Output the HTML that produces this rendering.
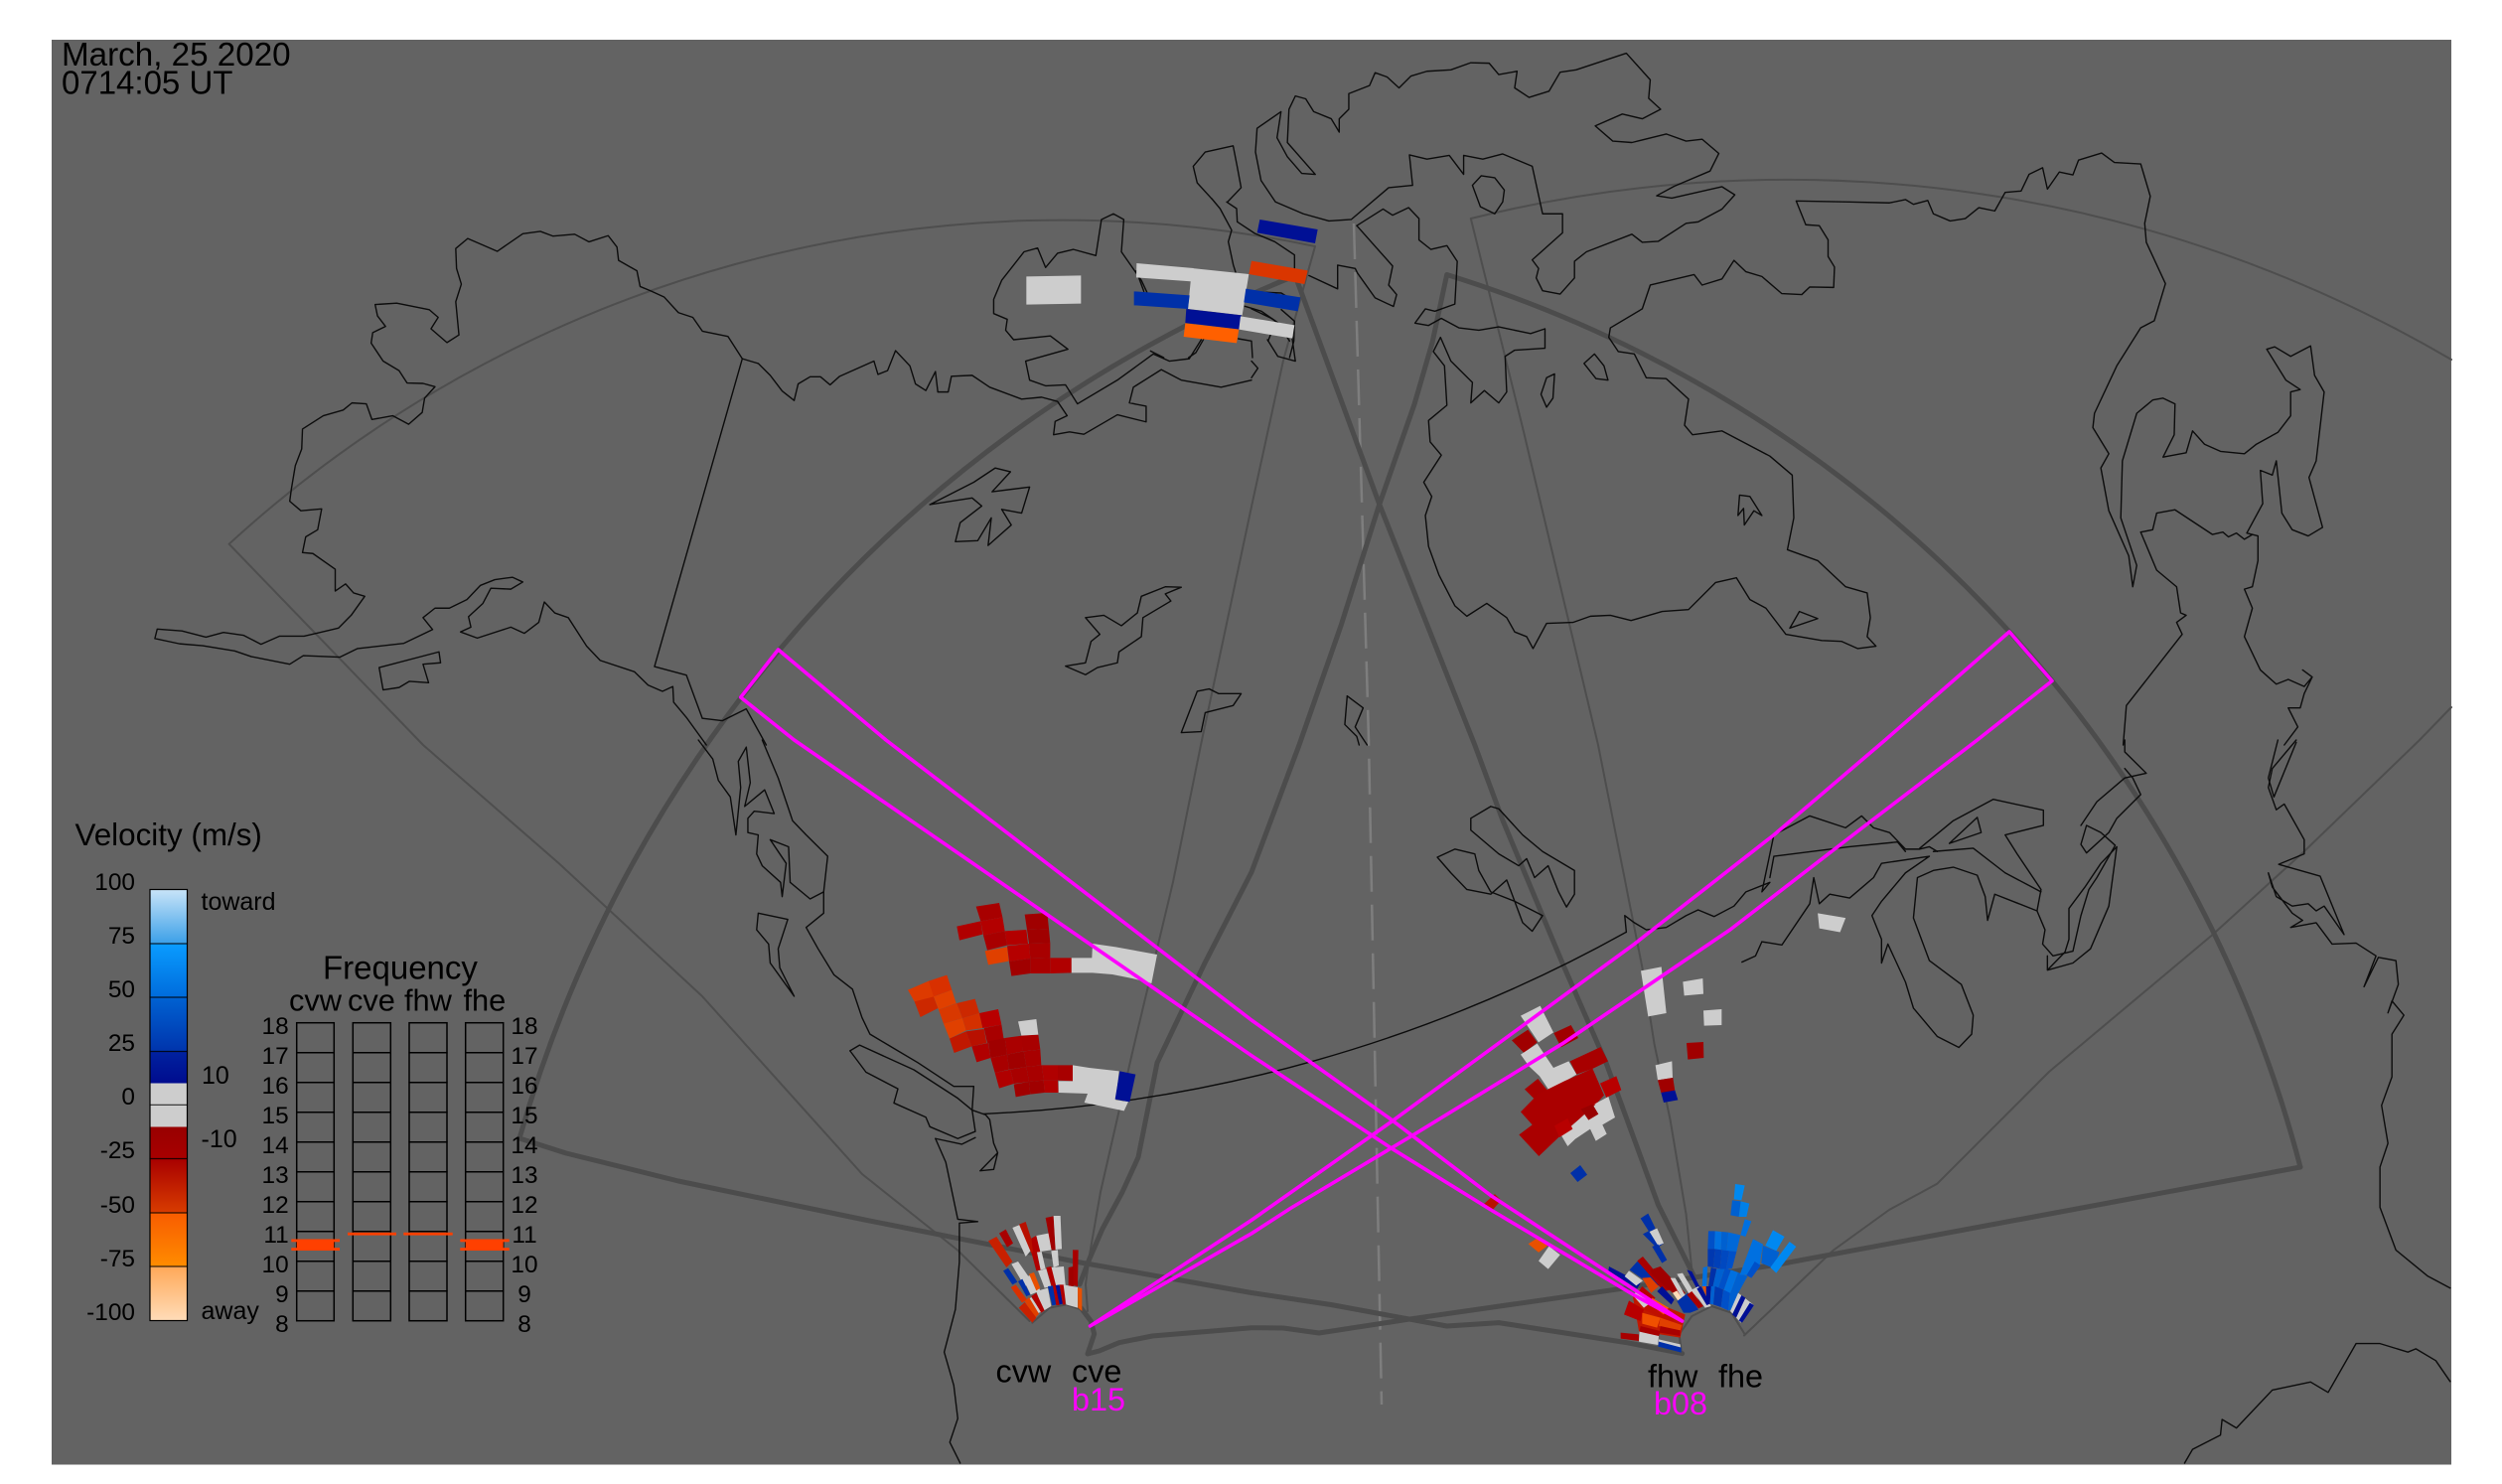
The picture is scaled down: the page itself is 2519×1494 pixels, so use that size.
<!DOCTYPE html>
<html><head><meta charset="utf-8"><style>
html,body{margin:0;padding:0;background:#fff}
svg{display:block}
polyline{vector-effect:non-scaling-stroke;fill:none;stroke-linejoin:round;stroke-linecap:round}
path{fill:none;stroke-linejoin:round;stroke-linecap:round}
.co polyline,.co path{stroke:#0c0c0c;stroke-width:1.4}
.tn polyline,.tn path{stroke:#4e4e4e;stroke-width:2}
.tk path{stroke:#4c4c4c;stroke-width:5}
.mg polyline{stroke:#ff00ff;stroke-width:3.6}
text{font-family:"Liberation Sans",sans-serif;fill:#000}
.g{fill:#cdcdcd}.n{fill:#001095}.b{fill:#0030a8}.r{fill:#a80000}.d{fill:#a00000}.s{fill:#b80000}.o{fill:#e04000}.p{fill:#ff6000}
</style></head><body>
<svg xmlns="http://www.w3.org/2000/svg" width="2519" height="1494" viewBox="0 0 2519 1494">
<defs>
<linearGradient id="g1" x1="0" y1="0" x2="0" y2="1"><stop offset="0" stop-color="#c8e4f8"/><stop offset="1" stop-color="#3ca0e8"/></linearGradient>
<linearGradient id="g2" x1="0" y1="0" x2="0" y2="1"><stop offset="0" stop-color="#0a9cff"/><stop offset="1" stop-color="#006cdc"/></linearGradient>
<linearGradient id="g3" x1="0" y1="0" x2="0" y2="1"><stop offset="0" stop-color="#0062d2"/><stop offset="1" stop-color="#0034ac"/></linearGradient>
<linearGradient id="g4" x1="0" y1="0" x2="0" y2="1"><stop offset="0" stop-color="#0022a0"/><stop offset="1" stop-color="#000c8e"/></linearGradient>
<linearGradient id="g5" x1="0" y1="0" x2="0" y2="1"><stop offset="0" stop-color="#980000"/><stop offset="1" stop-color="#a80000"/></linearGradient>
<linearGradient id="g6" x1="0" y1="0" x2="0" y2="1"><stop offset="0" stop-color="#a80000"/><stop offset="1" stop-color="#d83c00"/></linearGradient>
<linearGradient id="g7" x1="0" y1="0" x2="0" y2="1"><stop offset="0" stop-color="#f85c00"/><stop offset="1" stop-color="#ff8c00"/></linearGradient>
<linearGradient id="g8" x1="0" y1="0" x2="0" y2="1"><stop offset="0" stop-color="#ffa858"/><stop offset="1" stop-color="#ffdcb8"/></linearGradient>
</defs>
<rect width="2519" height="1494" fill="#fff"/>
<rect x="52" y="40" width="2416" height="1434.5" fill="#636363"/>

<!-- thin fans -->
<g class="tn">
<path d="M1036.6,1330 L964,1258.5 L868,1182 L707,1003 L562.5,869 L426,750 L230.6,547.7 A1241.7,1241.7 0 0 1 1324,248 L1292,363 L1260,510 L1209,750 L1181,888 L1141,1055.5 L1108,1200 L1097,1263 L1093,1293 L1095,1320"/>
<path d="M1704,1285 L1697.6,1222.7 L1681.5,1127 L1665.5,1050.7 L1653.4,974 L1609,750 L1533,430.5 L1480.8,220 A1322,1322 0 0 1 2468,362"/>
<path d="M2468,712 L2436,745 L2320,857 L2227.6,941 L2063,1079 L1950.5,1191.6 L1902,1218 L1846,1258.5 L1756,1344.5"/>
<g transform="translate(960,1200) scale(.33333)"><polyline points="238,395 290,350 340,340 385,355 415,390"/></g>
<g transform="translate(1540,1180) scale(.33333)"><polyline points="458,540 452,490 490,435 550,405 610,425 650,490"/></g>
</g>

<!-- dashed centre -->
<polyline points="1363,225 1378,745 1391,1414" style="stroke:#7e7e7e;stroke-width:2.5;stroke-dasharray:36 13;stroke-linecap:butt"/>

<!-- thick fans -->
<g class="tk">
<path d="M1693.6,1362.6 L1637.4,1351.6 L1509,1331.6 L1456.7,1335 L1340,1313.5 L1260,1301.5 L1085,1270.5 L964,1246.6 L868,1227.5 L683,1189 L570,1161 L523,1146 A1331,1331 0 0 1 1304,277.5 L1388.5,507 L1484.8,750 L1513,826 L1573,969.5 L1617,1070 L1645,1146 L1669.5,1213 L1705.6,1285"/>
<path d="M1088.3,1316.7 L1098.3,1330 L1101.7,1343 L1095,1363 L1106.7,1360 L1126.7,1351.7 L1160,1345 L1260,1336.7 L1292,1337 L1328,1342 L1420.6,1327.8 L1637.4,1296.7 L1790,1273 L2316,1175 A1279.5,1279.5 0 0 0 1456.7,276.5 L1442,345 L1424,407 L1388,510 L1350,630 L1308,750 L1260,878 L1213,969.5 L1165,1070 L1146,1165 L1130,1200 L1110,1237 L1097,1267 L1087,1293"/>
</g>

<!-- coast -->
<g class="co">
<path d="M990,1121.4 A1461,1461 0 0 0 1637,938.5"/>
<g transform="translate(0,0) scale(.80357,.47832)">
<polyline points="930,755 912,708 880,697 868,668 850,658 832,625 815,612 802,603 798,570 775,548 773,520 762,496 738,509 720,493 693,497 677,487 655,492 623,529 586,502 571,523 572,565 578,598 571,635 575,705 560,721 540,692 549,668 538,652 497,638 470,641 473,665 483,687 467,700 465,722 480,760 500,780 510,806 530,807 545,814 532,838 529,868 512,893 492,875 466,883 459,850 441,848 430,863 405,875 379,903 378,945 370,980 365,1030 363,1055 377,1075 403,1071 398,1115 383,1130 379,1163 392,1165 420,1198 420,1244 433,1229 443,1248 457,1255 440,1295 424,1322 381,1339 350,1339 327,1356 305,1337 280,1331 258,1341 228,1328 197,1324 194,1344 225,1355 254,1359 294,1370 315,1382 363,1398 380,1380 426,1383 448,1365 506,1354 542,1325 530,1300 545,1280 563,1280 585,1262 602,1232 620,1220 642,1215 655,1225 640,1240 615,1238 605,1270 587,1298 590,1320 577,1330 598,1343 640,1320 657,1333 675,1310 682,1267 695,1290 712,1300 735,1360 752,1390 795,1414 812,1442 830,1455 843,1445 844,1478 860,1510 885,1568"/>
<polyline points="930,755 820,1403 860,1421 880,1512 905,1517 935,1492 960,1568"/>
<polyline points="475,1405 550,1372 552,1395 530,1398 537,1437 513,1434 500,1447 480,1452 475,1405"/>
<polyline points="930,755 950,765 965,790 980,823 995,843 1000,808 1015,793 1028,793 1040,810 1052,792 1095,760 1100,788 1112,780 1122,738 1140,770 1147,808 1160,822 1172,782 1175,825 1188,825 1192,792 1218,790 1240,815 1280,840 1305,836 1325,845 1337,875 1322,887 1320,915 1340,909 1358,914 1400,873 1436,888 1436,855 1415,848 1420,815 1455,778 1480,800 1530,815 1568,800"/>
<polyline points="1505,715 1490,755 1465,760 1445,745 1400,800 1350,850 1335,810 1310,812 1290,800 1285,760 1338,735 1316,707 1270,715 1260,695 1262,672 1245,660 1245,630 1255,590 1283,530 1300,522 1310,563 1325,533 1345,525 1373,538 1380,462 1395,450 1408,462 1405,530 1430,590 1437,615"/>
<polyline points="1518,418 1500,385 1495,350 1510,320 1545,307 1550,350 1555,395 1538,425"/>
<polyline points="1165,1062 1220,1015 1247,985 1266,993 1243,1035 1290,1025 1280,1080 1255,1072 1267,1105 1238,1148 1242,1090 1225,1138 1197,1140 1203,1100 1230,1065 1218,1048 1165,1062"/>
<polyline points="1360,1300 1383,1295 1405,1317 1425,1290 1430,1255 1460,1235 1480,1236 1460,1250 1467,1265 1432,1300 1430,1340 1402,1372 1400,1395 1375,1405 1360,1420 1335,1402 1360,1395 1367,1350 1378,1335 1360,1300"/>
<polyline points="1500,1455 1515,1450 1527,1460 1555,1460 1545,1485 1510,1500 1505,1540 1480,1542 1500,1455"/>
</g>
<g transform="translate(1020,200) scale(.33333)">
<polyline points="600,0 625,30 660,95 650,130 665,200 672,222"/>
<polyline points="645,10 675,30 677,70 730,105 790,130 850,170 850,210"/>
<polyline points="700,325 750,340 800,375 835,430"/>
<polyline points="770,430 778,410 790,385"/>
<polyline points="680,423 720,430 723,480"/>
<polyline points="575,425 552,465 530,480"/>
<polyline points="415,460 455,480"/>
<polyline points="810,335 850,370 848,430 835,480"/>
<polyline points="700,280 810,285 850,310"/>
<polyline points="372,218 395,280"/>
</g>
<g transform="translate(1260,0) scale(.80293,.47832)">
<polyline points="7,270 37,235 32,290 45,330 63,365 80,367 45,300 47,230 55,202 68,208 78,235 100,250 110,278 110,250 122,230 122,197 148,180 155,153 170,162 185,185 200,160 220,150 250,147 275,132 298,133 310,157 333,150 330,185 348,205 373,192 387,152 407,147 470,112 500,168 498,207 513,230 490,250 465,240 431,265 453,297 477,300 520,282 545,297 565,293 586,323 575,360 530,392 508,412 527,417 590,393 606,410 590,440 560,467 545,470 510,508 490,510 477,493 420,530 405,550 405,585 387,619 365,612 357,585 360,565 352,547 390,490 390,450 365,450 352,350 315,324 290,335 266,327 266,367 248,327 220,335 198,326 202,390 172,395 125,462 97,465 65,450 30,425 12,380 5,320 7,270"/>
<polyline points="277,390 288,370 305,374 317,400 315,425 305,450 287,435 277,390"/>
<polyline points="132,475 165,440 177,453 197,437 210,460 210,505 225,525 245,517 258,550 255,640 230,655 218,650 205,680 222,685 238,670 260,690 285,695 310,688 350,702 368,692 368,733 330,737 318,750 320,825 310,848 292,822 275,848 277,805 250,760 237,710 228,740 242,770 245,853 222,885 224,930 238,958 216,1015 226,1045 218,1085 222,1150 235,1210 255,1275 270,1297 295,1270 320,1300 330,1330 345,1340 353,1365 370,1312 403,1310 425,1297 450,1295 476,1306 515,1287 548,1283 582,1226 608,1216 625,1262 645,1280 670,1335 715,1348 740,1350 760,1365 783,1360 772,1340 776,1300 772,1248 745,1235 710,1180 672,1157 680,1090 678,1000 650,960 590,907 553,915 543,895 548,840 520,797 495,795 480,745 460,740 448,710 450,690 490,650 500,600 555,578 565,600 590,587 605,548 620,572 640,582 665,618 690,620 700,604 730,605 731,562 723,540 723,505 712,475 695,473 683,423 750,425 800,427 820,420 830,430 848,422 855,450 876,465 895,460 912,437 932,444 945,405 965,402 975,367 992,353 998,398 1013,362 1030,368 1037,337 1066,322 1082,342 1115,345 1127,413 1120,470 1122,510 1146,597 1132,675 1115,690 1085,770 1057,870 1055,900 1075,955 1065,985 1075,1075 1100,1170 1105,1235 1110,1190 1090,1090 1092,970 1110,870 1130,842 1143,838 1158,850 1157,915 1143,962 1172,953 1180,907 1195,935 1215,950 1245,955 1260,935 1287,910 1303,875 1303,825 1315,820 1297,800 1273,735 1283,730 1303,750 1328,728 1333,790 1345,825 1335,970 1326,1005 1343,1110 1325,1128 1305,1115 1292,1080 1285,970 1280,1000 1265,990 1268,1060 1248,1122 1262,1128 1262,1180 1255,1235 1245,1240 1255,1280 1245,1340 1265,1410 1285,1440 1300,1430 1320,1445 1330,1425 1318,1410"/>
<polyline points="1330,1425 1320,1460 1315,1490 1300,1490 1312,1530 1295,1568"/>
<polyline points="132,475 177,560 172,600 182,620 178,645 155,627 133,575 130,565 108,558 108,608 72,580"/>
<polyline points="0,650 25,670 50,700 55,760 33,750 20,715"/>
<polyline points="0,760 8,775 0,795"/>
<polyline points="1115,1120 1130,1115 1135,1080 1158,1073 1205,1125 1218,1120 1225,1130 1235,1122 1245,1135 1255,1125"/>
<polyline points="1115,1120 1135,1200 1160,1235 1165,1290 1172,1295 1160,1310 1167,1335 1097,1485 1093,1568"/>
<polyline points="417,765 430,745 442,770 447,800 432,797 417,765"/>
<polyline points="380,787 370,795 363,830 370,857 378,838 380,787"/>
<polyline points="612,1042 625,1045 640,1085 630,1075 618,1105 617,1070 610,1085 612,1042"/>
<polyline points="675,1322 687,1287 710,1302 675,1322"/>
<polyline points="120,1465 140,1490 130,1530 145,1568"/>
<polyline points="120,1465 117,1525 132,1550 135,1568"/>
</g>
<g transform="translate(0,745) scale(.80357,.47768)">
<polyline points="875,0 893,40 900,85 915,120 922,200 928,100 925,45 935,15 940,90 933,140 958,105 970,155 945,150 937,165 937,195 950,200 948,240 955,265 978,300 980,330 985,260 965,210 988,225 990,300 1015,335 1032,320 1032,365 1010,395 1025,440 1045,495 1068,525 1080,585 1090,620 1120,650 1150,680 1195,730 1220,730 1218,780 1235,790 1240,800 1245,850 1250,870 1228,908 1245,905 1250,870"/>
<polyline points="955,0 965,40 975,80 985,130 993,170 1010,200 1037,245 1032,320"/>
<polyline points="950,365 987,378 975,440 977,480 995,540 965,470 963,430 948,400 950,365"/>
<polyline points="1065,655 1077,643 1145,695 1200,755 1218,780"/>
<polyline points="1065,655 1085,700 1125,735 1120,765 1160,795 1165,815 1200,840 1222,825 1218,780"/>
<polyline points="1172,840 1205,852 1222,838"/>
<polyline points="1172,840 1185,890 1200,1010 1225,1015 1202,1018 1202,1100 1197,1200 1183,1290 1195,1360 1200,1430 1190,1480 1203,1524"/>
</g>
<g transform="translate(1260,745) scale(.80293,.47768)">
<polyline points="470,405 468,370 480,385 495,400 520,395 545,370 560,358 580,372 605,350 620,320 650,300 640,320 655,200 700,160 745,185 765,160 780,185 800,195 820,230 838,230 850,225 860,235"/>
<polyline points="650,290 655,245 750,225 810,215 820,235"/>
<polyline points="615,468 632,455 640,425 665,432 700,345 705,290 712,345 725,325 750,333 780,290 790,260 850,245 820,280 790,340 778,370 790,420 790,470 798,430 820,510 830,565 860,625 887,648 903,620 905,580 890,515 850,465 830,375 835,290 855,275 880,268 910,285 920,330 923,380 932,325 985,360"/>
<polyline points="838,228 880,170 930,125 993,148 993,180 945,200 960,240 990,315 985,360 995,400 992,430 1005,455 1030,445 1040,370 1050,315 1060,290 1083,222 1065,195 1047,180 1040,220 1047,238 1075,195 1085,165 1115,115 1105,80 1095,60"/>
<polyline points="998,455 998,485 1030,470 1052,440 1075,350 1085,225 1065,260 1045,310 1025,355 1025,420 1020,447 998,485"/>
<polyline points="1040,180 1060,130 1095,80 1122,70 1095,25 1095,0"/>
<polyline points="875,218 910,163 915,195 875,218"/>
<polyline points="855,235 905,228 945,280 990,320"/>
<polyline points="1310,0 1280,60 1275,100 1285,147 1295,135 1320,210 1320,240 1288,262 1340,287 1370,410 1345,350 1335,360 1325,345 1305,350 1285,330 1275,280 1280,310 1305,365 1318,380 1303,395 1335,385 1355,430 1385,428 1410,455 1395,520 1413,458 1435,465 1438,515 1425,575 1430,550 1445,580 1430,620 1430,710 1417,770 1425,850 1415,900 1415,985 1435,1075 1475,1130 1503,1155"/>
<polyline points="1287,0 1275,80 1282,120 1310,5"/>
<polyline points="1170,1524 1180,1495 1215,1465 1217,1432 1235,1450 1280,1370 1328,1353 1350,1375 1385,1272 1415,1272 1450,1290 1460,1283 1485,1308 1503,1352"/>
<polyline points="275,165 300,140 310,145 340,200 365,235 405,275 405,325 395,352 385,320 372,265 355,290 345,250 335,265 310,240 275,190 275,165"/>
<polyline points="233,247 255,230 280,240 285,275 300,320 330,340 365,370 352,403 340,385 330,340 320,295 300,325 270,315 250,280 233,247"/>
</g>
</g>

<!-- top data -->
<g transform="translate(1020,200) scale(.33333)">
<polygon class="g" points="40,235 205,232 205,317 40,320"/>
<polygon class="g" points="373,195 545,210 540,250 372,238"/>
<polygon class="g" points="540,210 712,228 692,352 528,333"/>
<polygon class="b" points="365,280 533,292 528,333 365,322"/>
<polygon class="n" points="523,333 690,352 685,395 520,375"/>
<polygon class="p" points="520,376 682,395 675,436 515,417"/>
<polygon class="g" points="687,355 850,382 843,422 682,395"/>
<polygon class="b" points="703,272 868,298 860,340 697,313"/>
<polygon fill="#da3600" points="720,188 890,217 880,258 712,228"/>
<polygon class="n" points="745,63 920,93 912,135 737,103"/>
</g>

<!-- mid-left data -->
<g transform="translate(900,900) scale(.33333)">
<polygon class="g" points="600,150 670,160 795,183 778,270 720,255 660,243 600,238 536,238 536,193 598,193"/>
<polygon class="r" points="248,38 318,27 328,70 262,82"/>
<polygon fill="#b00000" points="190,98 262,82 268,122 198,140"/>
<polygon fill="#b30000" points="262,82 328,70 335,112 270,125"/>
<polygon class="r" points="270,125 335,112 342,155 282,170"/>
<polygon fill="#b30000" points="335,112 400,108 405,150 342,155"/>
<polygon class="d" points="395,62 463,57 468,105 402,108"/>
<polygon class="d" points="402,108 468,105 472,148 408,150"/>
<polygon class="o" points="275,172 342,160 347,203 285,214"/>
<polygon fill="#b50000" points="342,157 408,150 412,195 348,204"/>
<polygon class="r" points="408,150 472,148 472,193 412,195"/>
<polygon class="d" points="348,204 412,195 412,240 355,248"/>
<polygon class="r" points="412,195 472,193 472,240 412,240"/>
<polygon fill="#b00000" points="472,193 536,193 536,238 472,240"/>
<polygon fill="#dd3a00" points="42,290 105,263 125,310 62,325"/>
<polygon fill="#d83000" points="105,263 160,245 175,290 120,310"/>
<polygon fill="#cc2800" points="62,325 120,310 133,345 80,372"/>
<polygon class="o" points="120,310 175,290 188,330 135,350"/>
<polygon fill="#d83800" points="135,350 190,330 207,375 150,392"/>
<polygon fill="#cc2800" points="190,330 245,317 258,360 207,375"/>
<polygon class="o" points="150,392 207,375 218,412 168,437"/>
<polygon fill="#d43000" points="207,375 258,360 268,405 218,412"/>
<polygon class="s" points="258,360 315,348 325,395 268,405"/>
<polygon fill="#c01800" points="168,437 218,415 235,460 182,480"/>
<polygon fill="#b81000" points="218,415 272,408 280,450 235,460"/>
<polygon class="r" points="272,405 325,395 332,440 282,450"/>
<polygon fill="#b00000" points="235,460 285,450 292,495 250,508"/>
<polygon class="d" points="285,445 335,435 342,485 292,495"/>
<polygon fill="#aa0000" points="335,435 388,428 390,475 342,485"/>
<polygon class="r" points="385,427 436,425 442,470 390,475"/>
<polygon class="r" points="292,495 342,485 348,530 305,540"/>
<polygon class="d" points="342,485 392,475 400,522 348,530"/>
<polygon class="r" points="392,475 442,470 445,517 400,522"/>
<polygon fill="#b00000" points="305,540 352,530 362,573 318,587"/>
<polygon class="r" points="352,530 400,522 408,567 362,573"/>
<polygon class="r" points="400,522 447,517 452,563 408,567"/>
<polygon fill="#b00000" points="447,517 495,517 495,563 452,563"/>
<polygon class="r" points="495,517 540,517 540,565 495,563"/>
<polygon class="d" points="362,575 408,567 412,605 368,613"/>
<polygon class="d" points="408,567 452,563 455,600 412,605"/>
<polygon fill="#b00000" points="452,563 495,563 497,600 455,600"/>
<polygon class="g" points="375,385 430,378 436,425 385,428"/>
<polygon class="g" points="540,517 590,525 680,535 670,622 708,627 695,655 575,630 585,603 497,600 497,565 540,565"/>
<polygon class="n" points="682,535 730,545 712,628 668,620"/>
</g>

<!-- mid-right data -->
<g transform="translate(1500,960) scale(.33333)">
<polygon class="g" points="93,188 152,158 192,238 147,268"/>
<polygon class="d" points="66,262 115,230 143,268 103,300"/>
<polygon class="g" points="93,305 143,272 192,345 238,325 262,365 180,415 150,370 118,340"/>
<polygon class="d" points="193,240 245,216 267,255 215,283"/>
<polygon class="r" points="242,325 335,282 357,325 312,347 262,365"/>
<polygon class="r" points="105,410 145,378 178,418 140,445"/>
<polygon fill="#aa0000" points="93,478 145,425 225,385 310,347 345,428 320,455 270,500 215,548 148,612 88,547 128,517"/>
<polygon class="s" points="333,392 382,370 397,412 352,435"/>
<polygon class="g" points="315,455 358,432 378,495 340,517 353,545 320,566 303,530 258,560 235,582 215,548 270,500 320,455"/>
<polygon fill="#980000" points="275,470 310,455 328,485 298,503"/>
<polygon class="s" points="195,520 235,498 250,530 210,555"/>
<polygon class="b" points="243,663 273,639 294,668 265,690"/>
<polygon class="g" points="456,52 518,40 533,180 478,190"/>
<polygon class="g" points="583,85 643,75 645,122 587,127"/>
<polygon class="g" points="645,172 700,168 700,216 647,218"/>
<polygon class="d" points="594,270 645,267 646,315 598,320"/>
<polygon class="g" points="500,337 550,325 552,375 507,382"/>
<polygon class="d" points="507,382 553,375 559,415 517,420"/>
<polygon class="n" points="517,420 559,413 568,442 525,450"/>
</g>

<!-- isolated cells -->
<g transform="translate(1260,745) scale(.80293,.47768)">
<polygon class="g" points="710,365 745,375 738,405 712,397"/>
<polygon fill="#b81000" points="290,980 305,957 313,970 300,995"/>
<polygon fill="#e85000" points="347,1062 360,1048 372,1065 360,1080"/>
<polygon class="g" points="360,1098 373,1067 387,1085 372,1115"/>
</g>

<!-- cvw / cve -->
<g transform="translate(960,1200) scale(.33333)">
<polygon fill="#c82000" points="105,148 130,135 178,210 160,228"/>
<polygon class="r" points="138,125 158,113 180,155 162,167"/>
<polygon class="g" points="178,108 205,97 235,175 218,195"/>
<polygon fill="#b81000" points="198,98 218,90 248,182 235,185"/>
<polygon fill="#b00000" points="235,140 250,132 262,182 240,182"/>
<polygon class="g" points="250,132 290,124 296,175 262,180"/>
<polygon class="d" points="278,78 302,73 308,175 296,175"/>
<polygon class="g" points="302,72 323,72 327,172 308,174"/>
<polygon class="g" points="295,178 315,175 318,222 302,228"/>
<polygon fill="#b00000" points="235,182 252,182 263,235 250,238"/>
<polygon class="g" points="252,182 266,180 278,232 263,235"/>
<polygon class="r" points="360,175 377,175 375,285 360,282"/>
<polygon class="d" points="347,228 362,225 362,285 347,285"/>
<polygon class="g" points="255,238 280,232 295,285 275,290"/>
<polygon class="g" points="295,228 333,225 338,282 307,285"/>
<polygon fill="#b00000" points="280,228 295,225 310,285 297,288"/>
<polygon class="g" points="175,218 195,210 240,275 215,285"/>
<polygon class="b" points="150,238 165,230 193,272 178,280"/>
<polygon class="g" points="208,258 240,250 262,298 233,310"/>
<polygon class="b" points="195,270 208,263 232,310 220,315"/>
<polygon fill="#e85000" points="228,248 243,243 262,290 250,298"/>
<polygon fill="#d83000" points="173,288 188,280 222,325 207,335"/>
<polygon class="g" points="250,300 285,290 295,345 270,360"/>
<polygon class="g" points="225,325 235,318 265,362 252,368"/>
<polygon fill="#b00000" points="235,315 250,305 275,358 265,365"/>
<polygon class="o" points="215,330 228,318 258,368 245,382"/>
<polygon fill="#c82000" points="197,350 215,333 250,380 238,395"/>
<polygon class="b" points="285,285 300,283 312,340 298,343"/>
<polygon fill="#b00000" points="300,283 310,282 320,342 310,342"/>
<polygon class="n" points="308,282 320,280 330,338 320,340"/>
<polygon fill="#b00000" points="320,280 335,280 338,340 330,340"/>
<polygon class="g" points="332,280 375,288 375,350 340,340"/>
<polygon fill="#e85000" points="375,288 388,292 388,360 376,350"/>
</g>

<!-- fhw / fhe -->
<g transform="translate(1540,1180) scale(.33333)">
<polygon fill="#0088ee" points="621,36 650,40 640,85 617,82"/>
<polygon fill="#0060d0" points="612,85 638,88 632,135 607,130"/>
<polygon fill="#0080e8" points="638,88 664,95 655,135 632,135"/>
<polygon fill="#0070e0" points="650,142 670,148 652,195 637,190"/>
<polygon fill="#0050c8" points="540,178 560,178 558,232 538,232"/>
<polygon fill="#0070e0" points="560,178 580,180 578,235 558,232"/>
<polygon fill="#0060d0" points="580,180 600,182 595,238 578,235"/>
<polygon fill="#0068d8" points="600,182 637,190 625,240 595,238"/>
<polygon fill="#0038b0" points="538,232 560,232 555,288 538,285"/>
<polygon fill="#0040b8" points="560,232 580,235 575,292 555,288"/>
<polygon fill="#0048c0" points="580,235 603,238 593,295 575,292"/>
<polygon fill="#0050c8" points="603,238 625,240 612,290 593,295"/>
<polygon fill="#0070e0" points="524,288 537,285 535,345 521,345"/>
<polygon fill="#0030a8" points="548,288 565,292 553,348 540,345"/>
<polygon fill="#0060d0" points="565,292 590,293 570,350 553,348"/>
<polygon fill="#0050c8" points="590,293 608,295 587,355 570,350"/>
<polygon fill="#0070e0" points="608,295 630,303 605,370 587,355"/>
<polygon fill="#0060d0" points="630,303 658,315 625,375 605,370"/>
<polygon class="n" points="533,345 548,345 545,395 533,392"/>
<polygon fill="#0060d0" points="548,345 560,345 555,400 545,398"/>
<polygon fill="#0038b0" points="560,345 585,355 578,408 555,400"/>
<polygon fill="#0050c8" points="585,355 605,365 600,418 578,408"/>
<polygon fill="#0060d0" points="605,365 628,375 610,415 600,418"/>
<polygon fill="#0070e0" points="675,202 705,218 695,280 670,312 635,310"/>
<polygon fill="#0088f0" points="735,175 770,195 745,238 712,222"/>
<polygon fill="#0060d0" points="705,222 755,242 735,290 700,275"/>
<polygon fill="#0088f0" points="785,210 805,225 745,305 727,288"/>
<polygon fill="#0050c8" points="680,270 698,282 670,320 655,312"/>
<polygon class="g" points="630,365 678,402 638,455 606,420"/>
<polygon class="n" points="640,372 652,380 624,440 612,430"/>
<polygon class="n" points="665,395 678,402 642,455 632,448"/>
<polygon class="b" points="335,140 358,125 380,170 362,182"/>
<polygon class="b" points="342,187 365,175 405,215 385,230"/>
<polygon class="g" points="362,180 385,170 405,215 388,222"/>
<polygon class="b" points="370,225 388,218 415,265 400,275"/>
<polygon fill="#c01800" points="310,365 470,430 455,500 330,480"/>
<polygon class="s" points="300,388 345,415 335,450 285,430"/>
<polygon class="s" points="340,345 380,380 355,400 325,365"/>
<polygon fill="#c01000" points="352,390 440,440 430,455 345,415"/>
<polygon fill="#f05000" points="340,425 395,440 385,470 340,458"/>
<polygon class="o" points="395,440 460,462 455,478 390,465"/>
<polygon class="p" points="370,380 420,410 405,430 365,400"/>
<polygon class="r" points="335,465 395,480 390,497 332,482"/>
<polygon class="r" points="395,465 455,478 455,495 392,485"/>
<polygon class="n" points="240,285 335,335 325,352 238,298"/>
<polygon class="g" points="300,298 342,328 322,343 287,315"/>
<polygon class="b" points="325,270 345,280 395,335 380,350 302,295"/>
<polygon class="r" points="342,255 375,295 430,355 405,360 325,268"/>
<polygon class="d" points="365,295 395,285 470,365 455,385 370,310"/>
<polygon class="o" points="340,320 365,318 390,345 367,365"/>
<polygon class="g" points="310,370 330,358 365,395 345,410"/>
<polygon class="g" points="425,320 440,320 480,390 468,395"/>
<polygon class="g" points="445,308 462,305 510,385 495,390"/>
<polygon class="n" points="475,295 490,300 515,348 505,352"/>
<polygon class="n" points="385,360 400,345 437,385 428,400"/>
<polygon fill="#ffdcb8" points="432,365 445,358 482,412 470,420"/>
<polygon class="b" points="445,390 478,365 510,415 485,425 465,425"/>
<polygon class="r" points="475,370 490,360 525,405 510,412"/>
<polygon class="g" points="490,355 510,345 548,405 530,410"/>
<polygon class="n" points="505,352 518,345 545,398 535,402"/>
<polygon fill="#e85000" points="522,345 533,345 533,375"/>
<polygon class="r" points="275,485 330,490 330,510 275,503"/>
<polygon class="g" points="332,482 390,495 388,522 330,512"/>
<polygon class="g" points="390,505 455,520 456,530 390,514"/>
<polygon class="b" points="390,512 458,530 458,545 388,527"/>
</g>

<!-- magenta beams -->
<g class="mg">
<polyline points="1693.6,1330 1501,1203.6 1400.5,1127 1260,1027 892,745 783.5,654 745.7,702 799.6,745 1260,1062.7 1400.5,1155.8 1501,1218 1645.4,1304 1693.6,1330"/>
<polyline points="1097.5,1335 1260,1228.4 1400.5,1129.5 1645.4,950.4 1786,840.5 1898,745 2023,636 2066,685.5 1990.7,745 1878,831 1741.8,936 1573,1050.7 1420.6,1144 1300,1216 1260,1241.8 1097.5,1335"/>
</g>

<!-- header -->
<text x="62" y="66" font-size="33.2">March, 25 2020</text>
<text x="62" y="94.7" font-size="33">0714:05 UT</text>

<!-- velocity scale -->
<text x="75.5" y="851" font-size="31.4">Velocity (m/s)</text>
<rect x="151" y="895.5" width="37.5" height="54.5" fill="url(#g1)"/>
<rect x="151" y="950" width="37.5" height="54" fill="url(#g2)"/>
<rect x="151" y="1004" width="37.5" height="54.5" fill="url(#g3)"/>
<rect x="151" y="1058.5" width="37.5" height="32" fill="url(#g4)"/>
<rect x="151" y="1090.5" width="37.5" height="44" fill="#cdcdcd"/>
<rect x="151" y="1134.5" width="37.5" height="32" fill="url(#g5)"/>
<rect x="151" y="1166.5" width="37.5" height="54.5" fill="url(#g6)"/>
<rect x="151" y="1221" width="37.5" height="54" fill="url(#g7)"/>
<rect x="151" y="1275" width="37.5" height="54.5" fill="url(#g8)"/>
<g stroke="#000" stroke-width="1.2" fill="none">
<rect x="151" y="895.5" width="37.5" height="434"/>
<path d="M151 950H188.5M151 1004H188.5M151 1058.5H188.5M151 1112.3H188.5M151 1166.5H188.5M151 1221H188.5M151 1275H188.5" opacity=".8" style="stroke:#000;stroke-width:1.2"/>
</g>
<g font-size="24.4" text-anchor="end">
<text x="136" y="896">100</text><text x="136" y="950">75</text><text x="136" y="1004">50</text><text x="136" y="1058">25</text><text x="136" y="1112">0</text><text x="136" y="1166">-25</text><text x="136" y="1221">-50</text><text x="136" y="1275">-75</text><text x="136" y="1329">-100</text>
</g>
<g font-size="25">
<text x="202.5" y="916">toward</text><text x="202.5" y="1328">away</text><text x="203" y="1091">10</text><text x="202.5" y="1155">-10</text>
</g>

<!-- frequency -->
<text x="325" y="985.6" font-size="33">Frequency</text>
<g font-size="30.8">
<text x="291" y="1017.6">cvw</text><text x="350" y="1017.6">cve</text><text x="407" y="1017.6">fhw</text><text x="466.5" y="1017.6">fhe</text>
</g>
<g fill="none" stroke="#000" stroke-width="1.5">
<rect x="298.7" y="1029.7" width="37.6" height="300"/>
<rect x="355.3" y="1029.7" width="38" height="300"/>
<rect x="412" y="1029.7" width="38" height="300"/>
<rect x="468.7" y="1029.7" width="38" height="300"/>
<path style="stroke:#000;stroke-width:1.5" d="M298.7 1059.7H336.3M355.3 1059.7H393.3M412 1059.7H450M468.7 1059.7H506.7M298.7 1089.7H336.3M355.3 1089.7H393.3M412 1089.7H450M468.7 1089.7H506.7M298.7 1119.7H336.3M355.3 1119.7H393.3M412 1119.7H450M468.7 1119.7H506.7M298.7 1149.7H336.3M355.3 1149.7H393.3M412 1149.7H450M468.7 1149.7H506.7M298.7 1179.7H336.3M355.3 1179.7H393.3M412 1179.7H450M468.7 1179.7H506.7M298.7 1209.7H336.3M355.3 1209.7H393.3M412 1209.7H450M468.7 1209.7H506.7M298.7 1239.7H336.3M355.3 1239.7H393.3M412 1239.7H450M468.7 1239.7H506.7M298.7 1269.7H336.3M355.3 1269.7H393.3M412 1269.7H450M468.7 1269.7H506.7M298.7 1299.7H336.3M355.3 1299.7H393.3M412 1299.7H450M468.7 1299.7H506.7"/>
</g>
<g fill="#ff4000">
<rect x="298.7" y="1247.5" width="37.6" height="11.5"/><rect x="293.3" y="1247.5" width="48.7" height="2.8"/><rect x="293.3" y="1256.2" width="48.7" height="2.8"/>
<rect x="468.7" y="1247.5" width="38" height="11.5"/><rect x="463.3" y="1247.5" width="49.4" height="2.8"/><rect x="463.3" y="1256.2" width="49.4" height="2.8"/>
<rect x="350" y="1240.8" width="49" height="2.8"/><rect x="406.3" y="1240.8" width="49.4" height="2.8"/>
</g>
<g font-size="24.4" text-anchor="end">
<text x="290.7" y="1041">18</text><text x="290.7" y="1071">17</text><text x="290.7" y="1101">16</text><text x="290.7" y="1131">15</text><text x="290.7" y="1161">14</text><text x="290.7" y="1191">13</text><text x="290.7" y="1221">12</text><text x="290.7" y="1251">11</text><text x="290.7" y="1281">10</text><text x="290.7" y="1311">9</text><text x="290.7" y="1341">8</text>
</g>
<g font-size="24.4" text-anchor="middle">
<text x="528" y="1041">18</text><text x="528" y="1071">17</text><text x="528" y="1101">16</text><text x="528" y="1131">15</text><text x="528" y="1161">14</text><text x="528" y="1191">13</text><text x="528" y="1221">12</text><text x="528" y="1251">11</text><text x="528" y="1281">10</text><text x="528" y="1311">9</text><text x="528" y="1341">8</text>
</g>

<!-- site labels -->
<g font-size="32.4">
<text x="1002.5" y="1391.7">cvw</text><text x="1079" y="1391.7">cve</text>
<text x="1659" y="1396.7">fhw</text><text x="1730" y="1396.7">fhe</text>
<text x="1079" y="1420" style="fill:#ff00ff">b15</text>
<text x="1665" y="1424" style="fill:#ff00ff">b08</text>
</g>
</svg>
</body></html>
